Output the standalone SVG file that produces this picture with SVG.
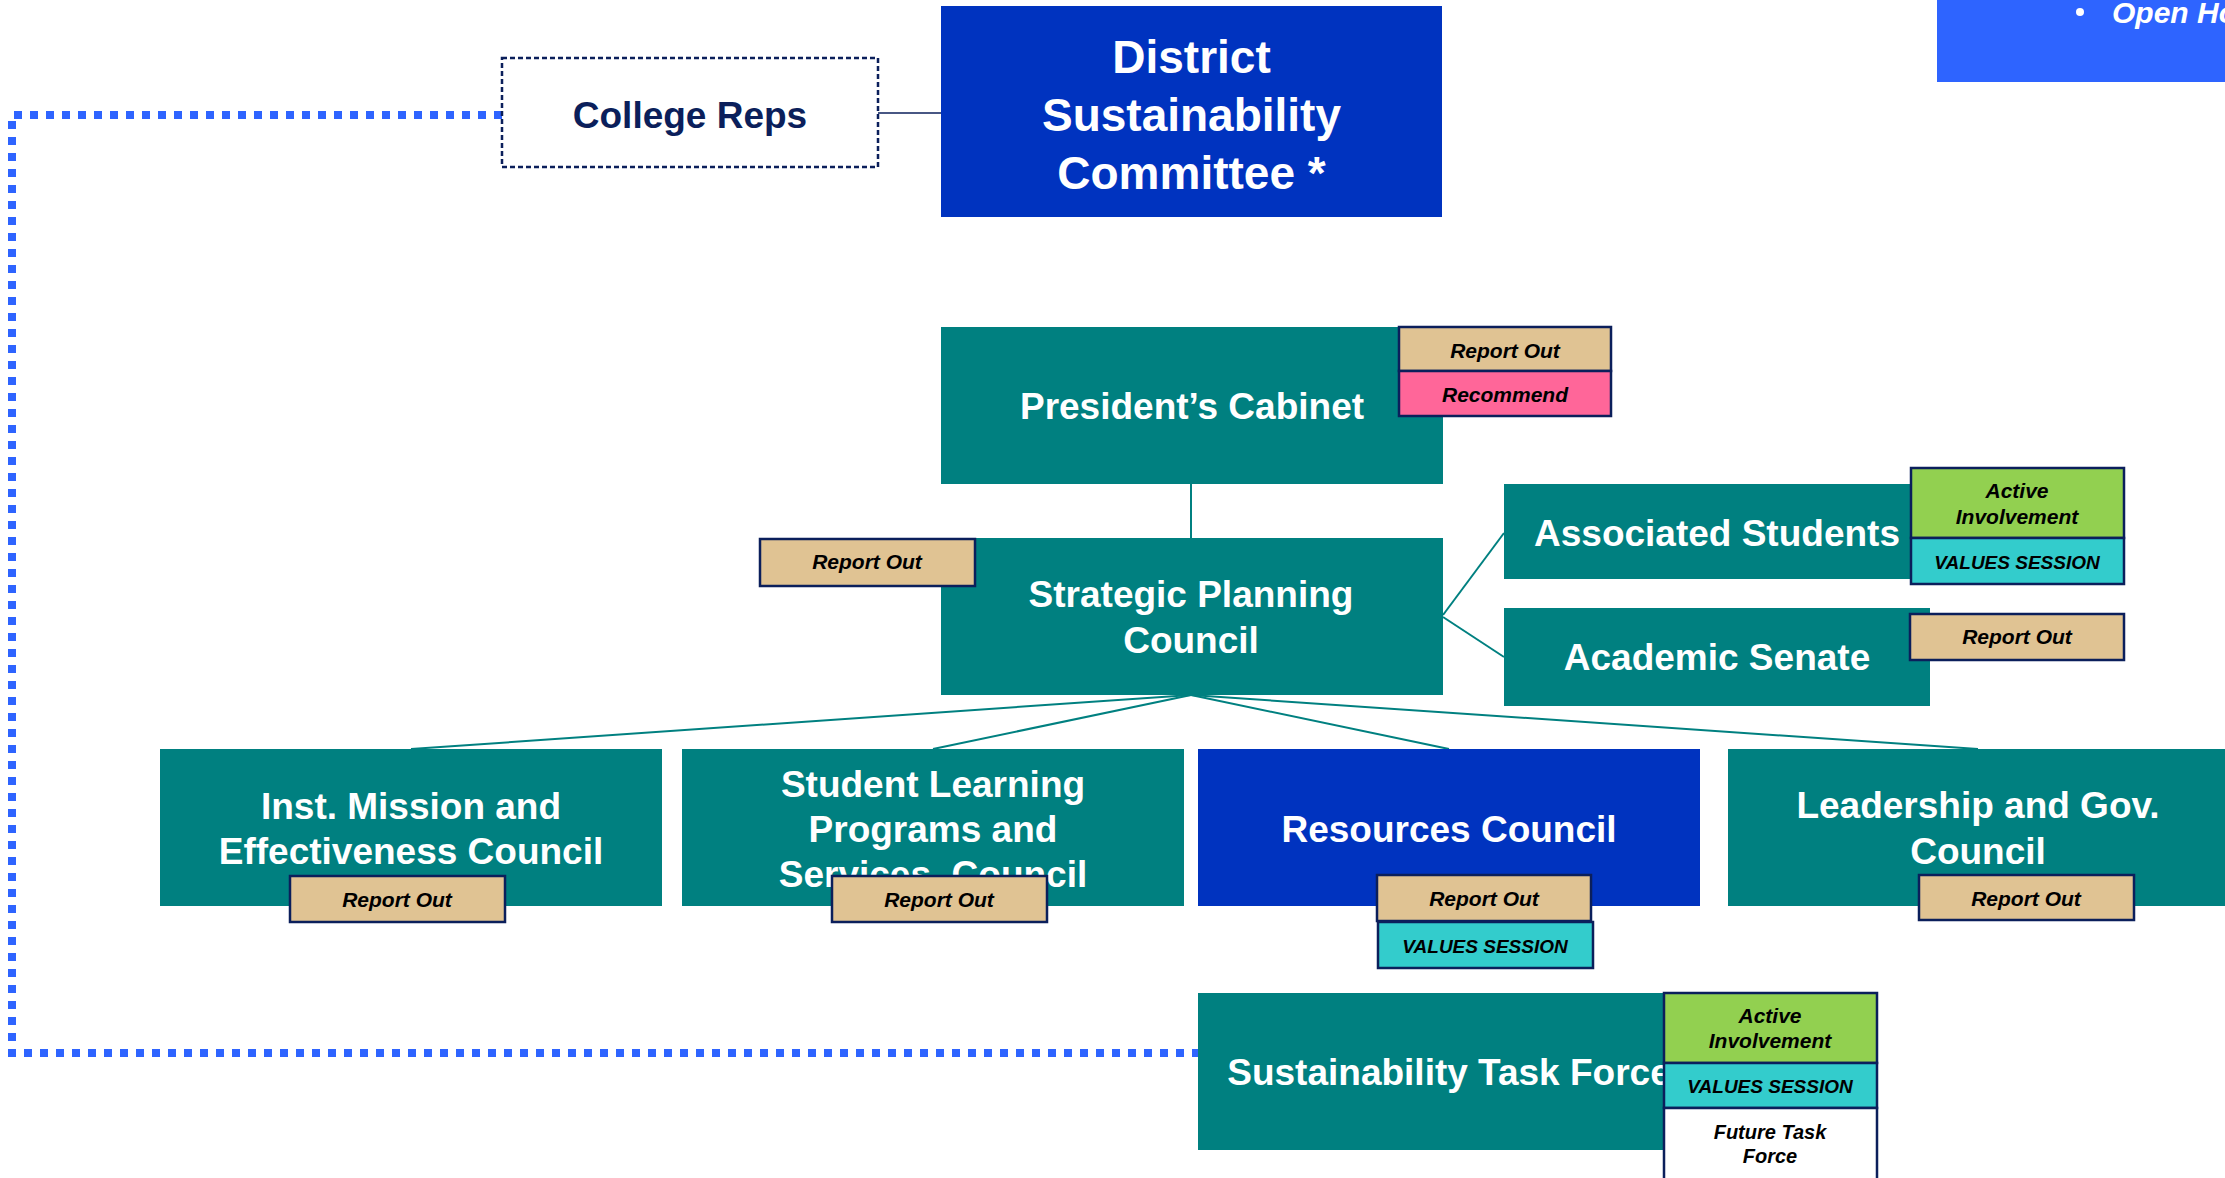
<svg xmlns="http://www.w3.org/2000/svg" width="2225" height="1178" viewBox="0 0 2225 1178">
<style>
.bg{fill:#ffffff}
.teal{fill:#008080}
.blue{fill:#0033BF}
.nt{font-family:"Liberation Sans",Arial,sans-serif;font-weight:bold;font-size:37px;fill:#ffffff;text-anchor:middle}
.dsc{font-size:46px}
.badge{stroke:#0B1F5B;stroke-width:2.5}
.tan{fill:#E0C393}
.pink{fill:#FF6699}
.green{fill:#92D050}
.cyan{fill:#33CCCC}
.white{fill:#ffffff}
.bt{font-family:"Liberation Sans",Arial,sans-serif;font-weight:bold;font-style:italic;font-size:21px;fill:#000000;text-anchor:middle}
.vs{font-size:19px}
.conn{stroke:#008080;stroke-width:2;fill:none}
</style>
<rect class="bg" x="0" y="0" width="2225" height="1178"/>

<g id="connectors">
  <path d="M502 115 H12 V1053 H1198" fill="none" stroke="#2E64FF" stroke-width="8" stroke-dasharray="8 8"/>
  <line x1="878" y1="113" x2="941" y2="113" stroke="#0B1F5B" stroke-width="1.5"/>
  <line class="conn" x1="1191" y1="484" x2="1191" y2="538" stroke-width="1.5"/>
  <line class="conn" x1="1443" y1="615" x2="1504" y2="533" stroke-width="1.5"/>
  <line class="conn" x1="1443" y1="617" x2="1504" y2="657" stroke-width="1.5"/>
  <line class="conn" x1="1191" y1="695" x2="411" y2="749"/>
  <line class="conn" x1="1191" y1="695" x2="933" y2="749"/>
  <line class="conn" x1="1191" y1="695" x2="1449" y2="749"/>
  <line class="conn" x1="1191" y1="695" x2="1978" y2="749"/>
</g>

<g id="open-box">
  <rect x="1937" y="0" width="288" height="82" fill="#2E64FF"/>
  <circle cx="2080" cy="12" r="4" fill="#ffffff"/>
  <text x="2112" y="23" font-family="'Liberation Sans',Arial,sans-serif" font-weight="bold" font-style="italic" font-size="30" fill="#ffffff">Open Ho</text>
</g>

<g id="college-reps">
  <rect x="502" y="58" width="376" height="109" fill="#ffffff" stroke="#0B1F5B" stroke-width="2.5" stroke-dasharray="5 3"/>
  <text class="nt" x="690" y="128" fill="#0B1F5B" style="fill:#0B1F5B">College Reps</text>
</g>

<g id="dsc">
  <rect class="blue" x="941" y="6" width="501" height="211"/>
  <text class="nt dsc" x="1191.5" y="73">District</text>
  <text class="nt dsc" x="1191.5" y="131">Sustainability</text>
  <text class="nt dsc" x="1191.5" y="189">Committee *</text>
</g>

<g id="presidents-cabinet">
  <rect class="teal" x="941" y="327" width="502" height="157"/>
  <text class="nt" x="1192" y="419">President’s Cabinet</text>
  <rect class="badge tan" x="1399" y="327" width="212" height="44"/>
  <text class="bt" x="1505" y="358">Report Out</text>
  <rect class="badge pink" x="1399" y="371" width="212" height="45"/>
  <text class="bt" x="1505" y="402">Recommend</text>
</g>

<g id="strategic-planning">
  <rect class="teal" x="941" y="538" width="502" height="157"/>
  <text class="nt" x="1191" y="607">Strategic Planning</text>
  <text class="nt" x="1191" y="653">Council</text>
  <rect class="badge tan" x="760" y="539" width="215" height="47"/>
  <text class="bt" x="867" y="569">Report Out</text>
</g>

<g id="associated-students">
  <rect class="teal" x="1504" y="484" width="426" height="95"/>
  <text class="nt" x="1717" y="546">Associated Students</text>
  <rect class="badge green" x="1911" y="468" width="213" height="70"/>
  <text class="bt" x="2017" y="498">Active</text>
  <text class="bt" x="2017" y="524">Involvement</text>
  <rect class="badge cyan" x="1911" y="538" width="213" height="46"/>
  <text class="bt vs" x="2017" y="569">VALUES SESSION</text>
</g>

<g id="academic-senate">
  <rect class="teal" x="1504" y="608" width="426" height="98"/>
  <text class="nt" x="1717" y="670">Academic Senate</text>
  <rect class="badge tan" x="1910" y="614" width="214" height="46"/>
  <text class="bt" x="2017" y="644">Report Out</text>
</g>

<g id="inst-mission">
  <rect class="teal" x="160" y="749" width="502" height="157"/>
  <text class="nt" x="411" y="819">Inst. Mission and</text>
  <text class="nt" x="411" y="864">Effectiveness Council</text>
  <rect class="badge tan" x="290" y="876" width="215" height="46"/>
  <text class="bt" x="397" y="907">Report Out</text>
</g>

<g id="student-learning">
  <rect class="teal" x="682" y="749" width="502" height="157"/>
  <text class="nt" x="933" y="797">Student Learning</text>
  <text class="nt" x="933" y="842">Programs and</text>
  <text class="nt" x="933" y="887">Services. Council</text>
  <rect class="badge tan" x="832" y="876" width="215" height="46"/>
  <text class="bt" x="939" y="907">Report Out</text>
</g>

<g id="resources-council">
  <rect class="blue" x="1198" y="749" width="502" height="157"/>
  <text class="nt" x="1449" y="842">Resources Council</text>
  <rect class="badge tan" x="1377" y="875" width="214" height="46"/>
  <text class="bt" x="1484" y="906">Report Out</text>
  <rect class="badge cyan" x="1378" y="922" width="215" height="46"/>
  <text class="bt vs" x="1485" y="953">VALUES SESSION</text>
</g>

<g id="leadership-gov">
  <rect class="teal" x="1728" y="749" width="502" height="157"/>
  <text class="nt" x="1978" y="818">Leadership and Gov.</text>
  <text class="nt" x="1978" y="864">Council</text>
  <rect class="badge tan" x="1919" y="875" width="215" height="45"/>
  <text class="bt" x="2026" y="906">Report Out</text>
</g>

<g id="task-force">
  <rect class="teal" x="1198" y="993" width="502" height="157"/>
  <text class="nt" x="1449" y="1085">Sustainability Task Force</text>
  <rect class="badge green" x="1664" y="993" width="213" height="70"/>
  <text class="bt" x="1770" y="1023">Active</text>
  <text class="bt" x="1770" y="1048">Involvement</text>
  <rect class="badge cyan" x="1664" y="1063" width="213" height="45"/>
  <text class="bt vs" x="1770" y="1093">VALUES SESSION</text>
  <rect class="badge white" x="1664" y="1108" width="213" height="85"/>
  <text class="bt" x="1770" y="1139" font-size="20" style="font-size:20px">Future Task</text>
  <text class="bt" x="1770" y="1163" style="font-size:20px">Force</text>
</g>
</svg>
